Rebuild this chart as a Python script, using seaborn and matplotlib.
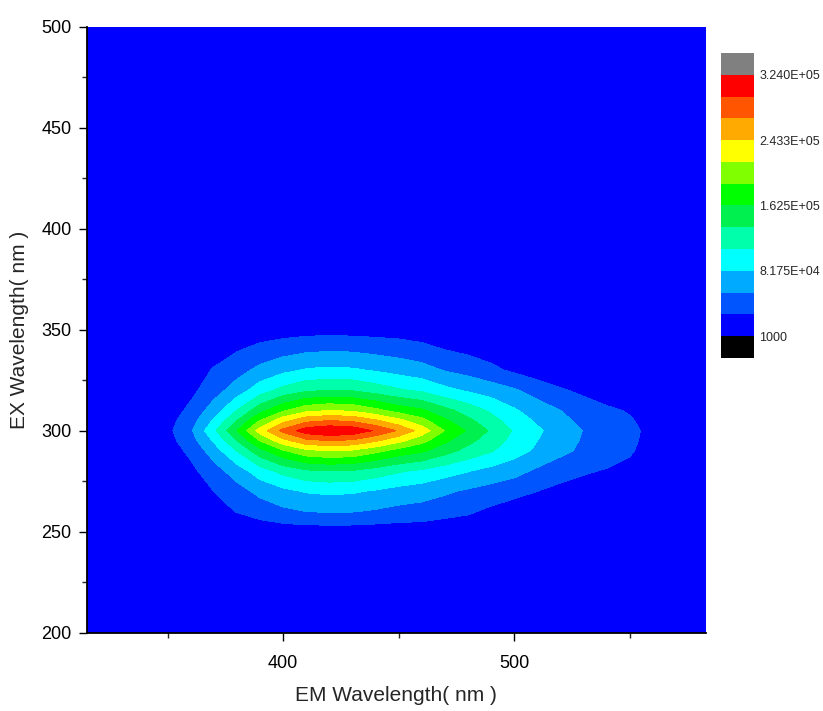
import numpy as np
import matplotlib
matplotlib.use("Agg")
import matplotlib.pyplot as plt
from matplotlib.colors import ListedColormap, BoundaryNorm
from matplotlib.ticker import MultipleLocator
import seaborn as sns

# Excitation-emission matrix (EEM). Intensities are in thousands of counts.
EM_NM = [300, 340, 350, 360, 370, 380, 390, 400, 410, 420, 430, 440, 450,
         460, 470, 480, 490, 500, 510, 520, 530, 540, 550, 560, 570, 600]
EX_NM = [200, 250, 260, 270, 280, 290, 295, 300, 305, 310, 320, 330, 340, 350, 500]
BACKGROUND_K = 5

# rows: EX 250 -> 350 nm ; columns: EM 340 -> 570 nm
INTENSITY_K = [
    [5, 5, 5, 5, 7, 10, 13, 14, 14, 14, 13, 12, 12, 9, 8, 7, 5, 5, 5, 5, 5, 5, 5, 5],
    [5, 5, 9, 18, 29, 40, 49, 55, 57, 56, 52, 47, 44, 38, 32, 22, 13, 9, 7, 5, 5, 5, 5, 5],
    [5, 6, 14, 28, 44, 62, 75, 84, 87, 85, 79, 72, 67, 59, 51, 44, 37, 28, 21, 16, 13, 10, 7, 5],
    [5, 9, 21, 43, 68, 96, 117, 131, 135, 133, 123, 112, 104, 93, 83, 73, 64, 50, 38, 31, 26, 23, 15, 10],
    [7, 14, 34, 68, 109, 153, 186, 209, 216, 212, 197, 179, 167, 146, 127, 111, 93, 77, 62, 49, 40, 30, 20, 13],
    [8, 18, 43, 85, 135, 190, 234, 262, 270, 265, 247, 224, 198, 168, 143, 122, 100, 82, 66, 52, 42, 32, 21, 14],
    [10, 21, 51, 102, 162, 228, 278, 312, 322, 316, 294, 267, 232, 189, 159, 132, 106, 86, 69, 54, 43, 33, 22, 14],
    [8, 18, 43, 85, 135, 190, 234, 262, 270, 265, 247, 224, 198, 167, 142, 118, 96, 78, 62, 48, 38, 30, 20, 13],
    [7, 14, 34, 68, 109, 153, 186, 209, 216, 212, 197, 179, 167, 144, 124, 104, 85, 69, 55, 42, 32, 26, 18, 12],
    [5, 9, 21, 43, 68, 96, 117, 131, 135, 133, 123, 112, 104, 89, 78, 69, 58, 43, 31, 22, 15, 12, 8, 6],
    [5, 6, 14, 30, 44, 62, 75, 84, 87, 85, 79, 72, 65, 53, 45, 34, 23, 14, 7, 5, 5, 5, 5, 5],
    [5, 5, 8, 16, 26, 36, 44, 50, 52, 51, 47, 43, 37, 28, 22, 16, 11, 7, 5, 5, 5, 5, 5, 5],
    [5, 5, 5, 6, 9, 13, 15, 17, 18, 17, 16, 15, 12, 9, 8, 5, 5, 5, 5, 5, 5, 5, 5, 5],
]

# Contour levels and palette
LEVEL_LOW = 1000
LEVEL_HIGH = 324000
N_BANDS = 12
BAND_COLORS = ["#0000FF", "#0055FF", "#00AAFF", "#00FFFF", "#00FFAA", "#00F050",
               "#00FF00", "#80FF00", "#FFFF00", "#FFAA00", "#FF5500", "#FF0000"]
UNDER_COLOR = "#000000"
OVER_COLOR = "#808080"
CBAR_TICK_LABELS = ["1000", "8.175E+04", "1.625E+05", "2.433E+05", "3.240E+05"]

X_LABEL = "EM Wavelength( nm )"
Y_LABEL = "EX Wavelength( nm )"

sns.set_theme(style="ticks")
plt.rcParams["font.family"] = ["Liberation Sans", "DejaVu Sans"]

grid = np.pad(np.array(INTENSITY_K, dtype=float), 1,
              constant_values=BACKGROUND_K) * 1000.0
levels = np.linspace(LEVEL_LOW, LEVEL_HIGH, N_BANDS + 1)
cmap = ListedColormap(BAND_COLORS)
cmap.set_under(UNDER_COLOR)
cmap.set_over(OVER_COLOR)
norm = BoundaryNorm(levels, cmap.N)

fig = plt.figure(figsize=(8.23, 7.11), dpi=100)
ax = fig.add_axes([0.1053, 0.1101, 0.7525, 0.8526])
ax.set_facecolor(BAND_COLORS[0])
cs = ax.contourf(EM_NM, EX_NM, grid, levels=levels, cmap=cmap, norm=norm,
                 extend="both", antialiased=False)

ax.set_xlim(315, 583)
ax.set_ylim(200, 500)
ax.xaxis.set_major_locator(MultipleLocator(100))
ax.xaxis.set_minor_locator(MultipleLocator(50))
ax.yaxis.set_major_locator(MultipleLocator(50))
ax.yaxis.set_minor_locator(MultipleLocator(25))
ax.tick_params(which="major", direction="out", length=6, width=1.0,
               labelsize=13, colors="black", pad=5)
ax.tick_params(which="minor", direction="out", length=3.5, width=1.0)
ax.tick_params(axis="x", which="major", pad=10)
for side in ("left", "bottom"):
    ax.spines[side].set_linewidth(1.3)
    ax.spines[side].set_color("black")
sns.despine(ax=ax)
ax.set_xlabel(X_LABEL, fontsize=15, labelpad=10)
ax.set_ylabel(Y_LABEL, fontsize=15, labelpad=9)

cax = fig.add_axes([0.876, 0.4965, 0.0401, 0.429])
cb = fig.colorbar(cs, cax=cax, extend="both", extendfrac=1 / 12,
                  extendrect=True, ticks=levels[::3])
cb.ax.minorticks_off()
cb.ax.set_yticklabels(CBAR_TICK_LABELS)
cb.outline.set_visible(False)
cb.ax.tick_params(which="both", length=0, labelsize=9, pad=4)

fig.savefig("out.png", dpi=100)
